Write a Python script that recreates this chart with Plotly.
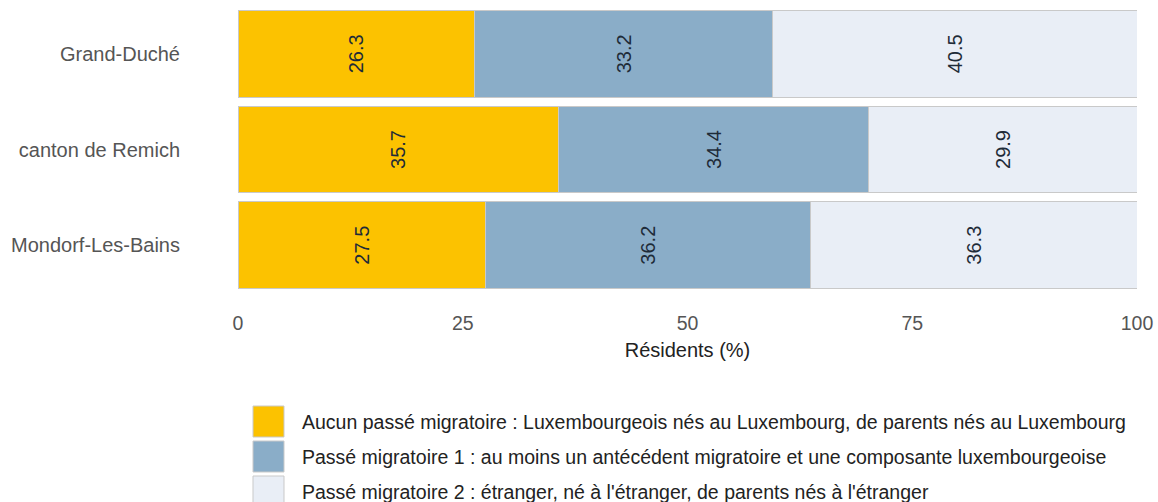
import plotly.graph_objects as go

categories = ["Grand-Duché", "canton de Remich", "Mondorf-Les-Bains"]
series_names = [
    "Aucun passé migratoire : Luxembourgeois nés au Luxembourg, de parents nés au Luxembourg",
    "Passé migratoire 1 : au moins un antécédent migratoire et une composante luxembourgeoise",
    "Passé migratoire 2 : étranger, né à l'étranger, de parents nés à l'étranger",
]
aucun = [26.3, 35.7, 27.5]
pm1 = [33.2, 34.4, 36.2]
pm2 = [40.5, 29.9, 36.3]
x_ticks = [0, 25, 50, 75, 100]

colors = ["#FCC200", "#8AADC8", "#E9EEF6"]
FONT = "Liberation Sans, Arial, sans-serif"
W, H = 1158, 502
L, R, T, B = 238, 21, 6, 209
pw, ph = W - L - R, H - T - B

fig = go.Figure()
for name, vals, col in zip(series_names, [aucun, pm1, pm2], colors):
    fig.add_trace(go.Bar(
        y=categories, x=vals, name=name, orientation="h",
        marker=dict(color=col, line=dict(color="#c9c9c9", width=1)),
        text=[f"{v:.1f}" for v in vals], textposition="inside",
        insidetextanchor="middle", textangle=-90,
        textfont=dict(family=FONT, size=20, color="#1e2b38"),
        showlegend=False,
    ))

def px2paper(x, y):
    return (x - L) / pw, (H - B - y) / ph

shapes, annotations = [], []
for i, (name, col) in enumerate(zip(series_names, colors)):
    top = 406 + i * 35
    x0, y0 = px2paper(253, top)
    x1, y1 = px2paper(284, top + 31)
    shapes.append(dict(type="rect", xref="paper", yref="paper", x0=x0, x1=x1, y0=y1, y1=y0,
                       fillcolor=col, line=dict(color="#c9c9c9", width=1)))
    ax, ay = px2paper(300, top + 16)
    annotations.append(dict(xref="paper", yref="paper", x=ax, y=ay, xanchor="left", yanchor="middle",
                            text=name, showarrow=False,
                            font=dict(family=FONT, size=19.5, color="#222222")))

fig.update_layout(
    width=W, height=H, barmode="stack", bargap=0.095,
    margin=dict(l=L, r=R, t=T, b=B, autoexpand=False),
    plot_bgcolor="white", paper_bgcolor="white",
    font=dict(family=FONT, size=20, color="#555555"),
    xaxis=dict(range=[0, 100], tickvals=x_ticks, ticktext=[str(v) for v in x_ticks],
               showgrid=False, zeroline=False, showline=False, ticklabelstandoff=16,
               title=dict(text="Résidents (%)", standoff=10,
                          font=dict(size=20, color="#222222")),
               tickfont=dict(size=19.5, color="#555555")),
    yaxis=dict(categoryorder="array", categoryarray=categories, autorange="reversed",
               showgrid=False, zeroline=False, showline=False, ticklabelstandoff=57,
               tickfont=dict(size=20, color="#555555")),
    shapes=shapes, annotations=annotations,
)
fig.write_html("out.html", config={"displayModeBar": False},
               post_script="document.body.style.margin='0';document.body.style.overflow='hidden';")
